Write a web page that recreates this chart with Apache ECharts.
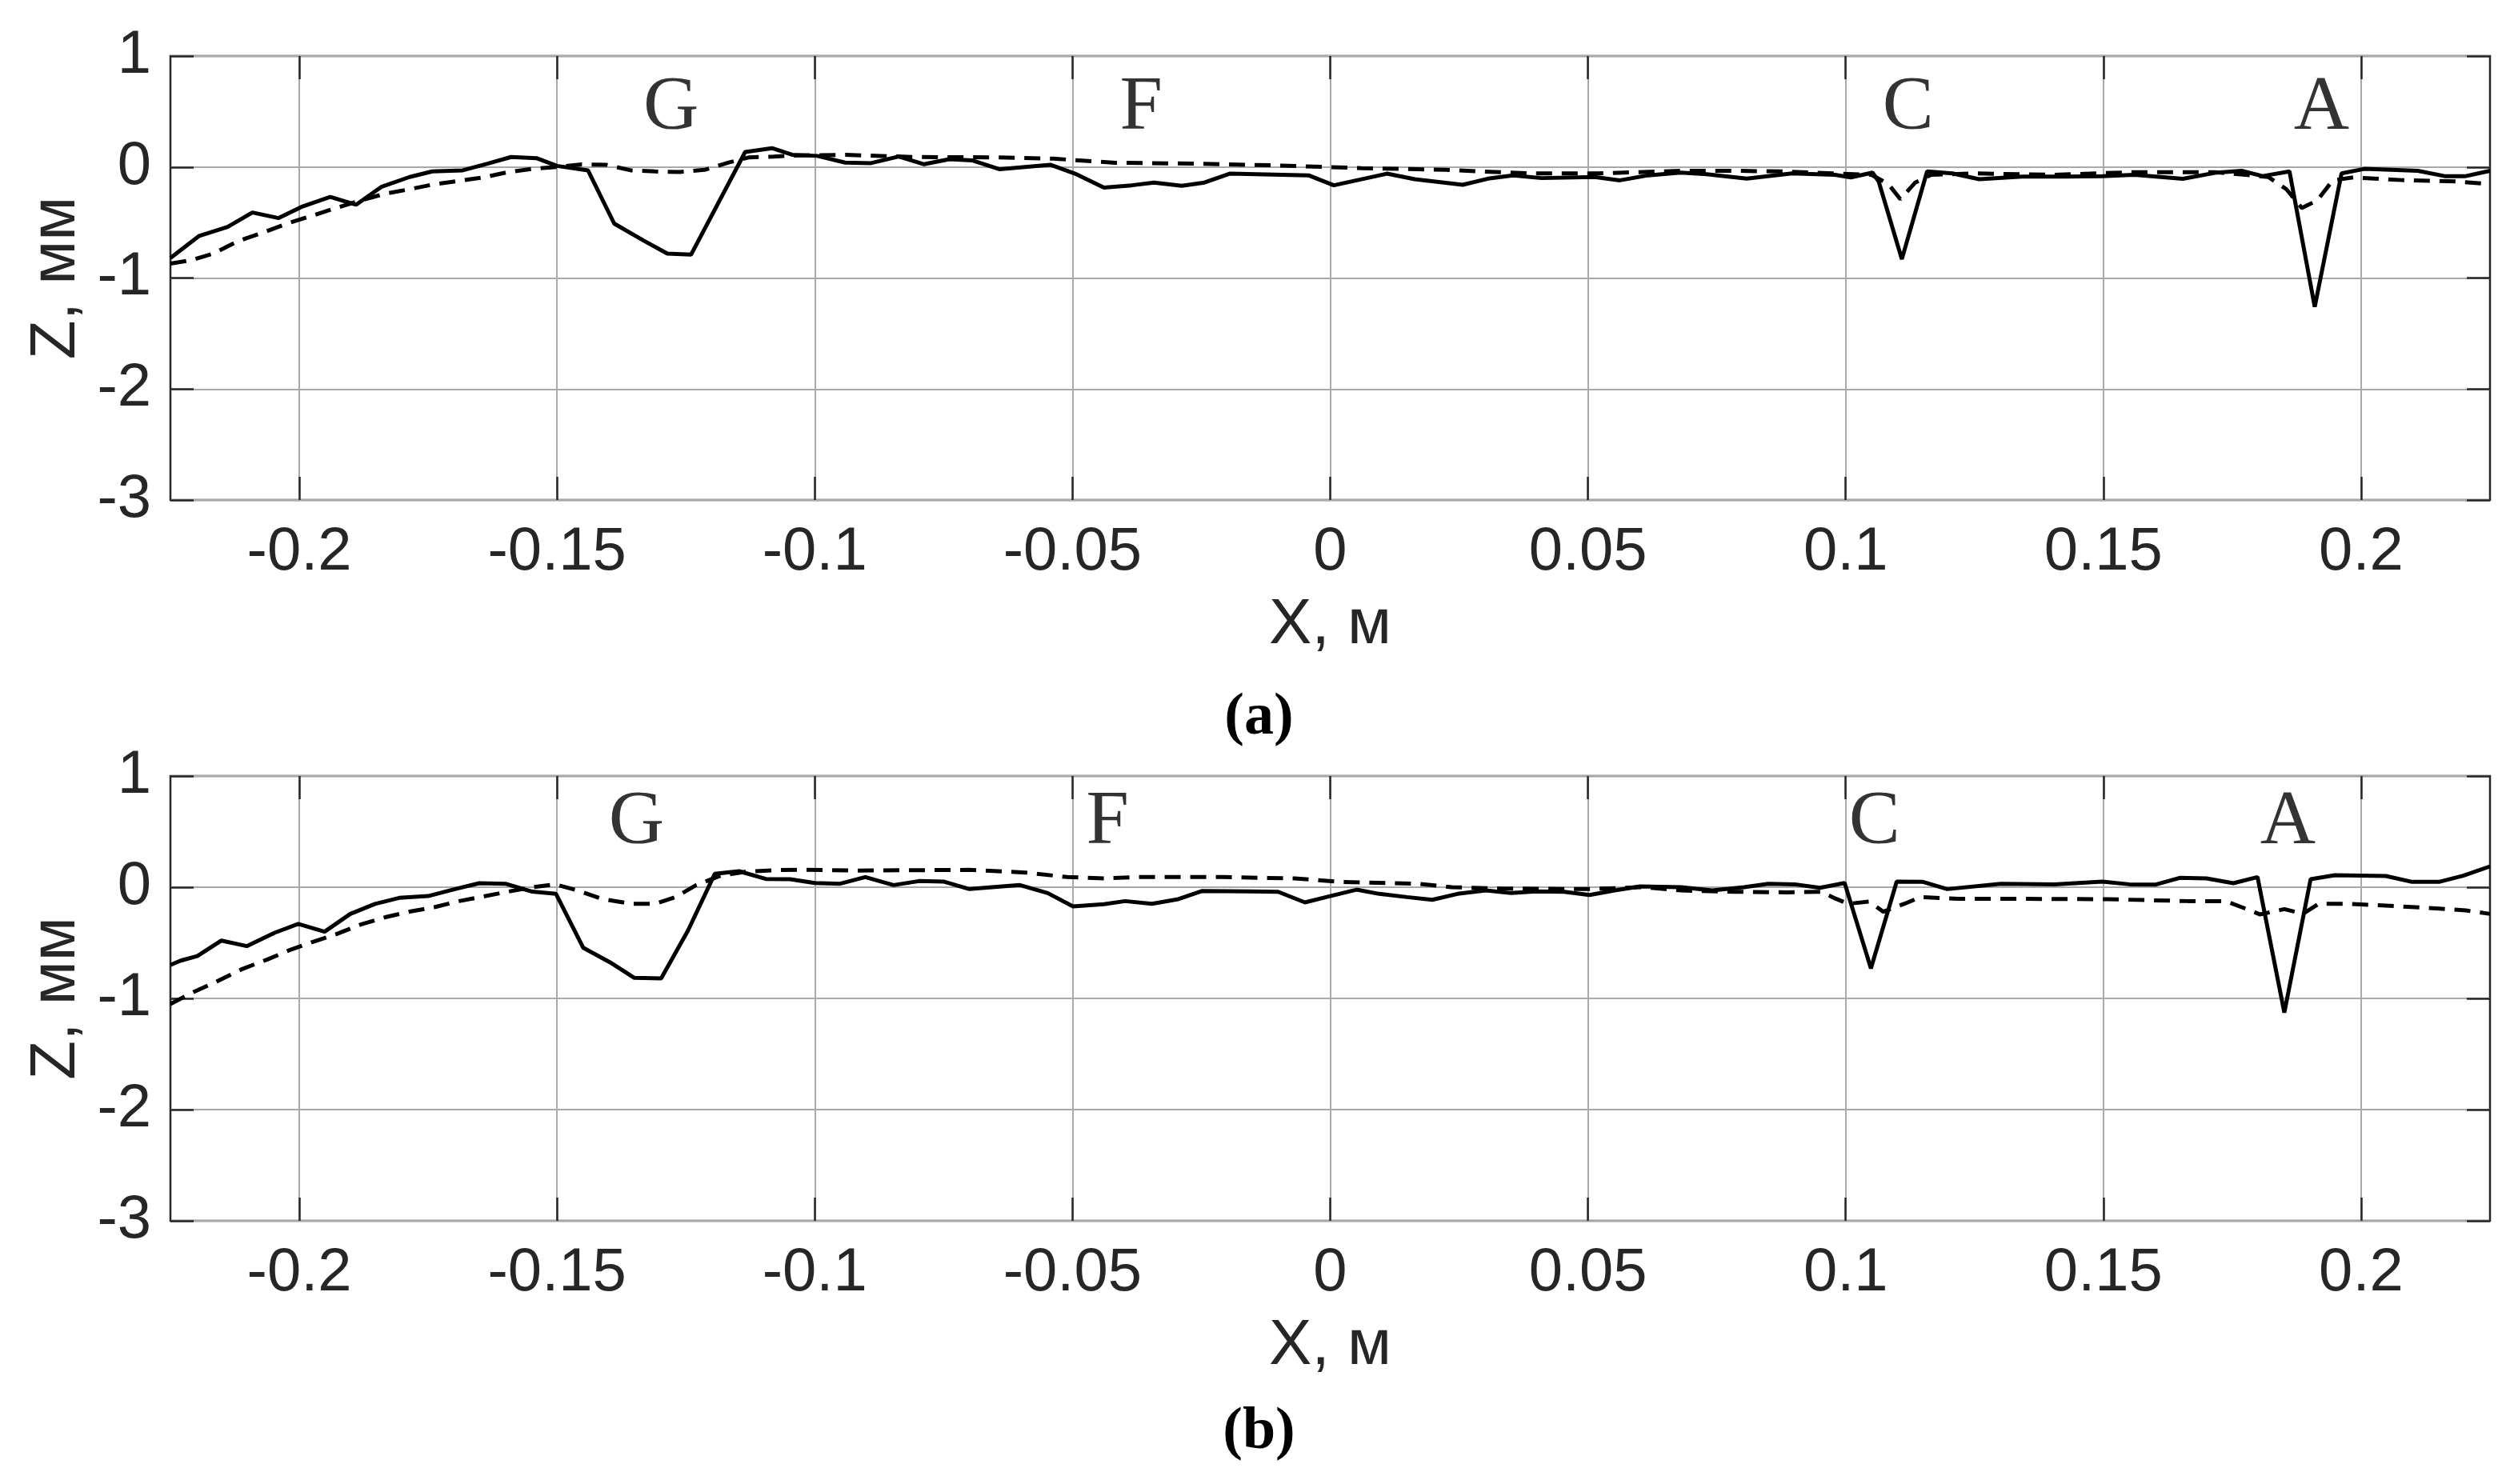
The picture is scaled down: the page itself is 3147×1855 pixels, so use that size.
<!DOCTYPE html>
<html>
<head>
<meta charset="utf-8">
<script src="https://cdn.jsdelivr.net/npm/echarts@6/dist/echarts.min.js"></script>
<style>
html,body{margin:0;padding:0;background:#fff;}
#chart{width:3147px;height:1855px;}
</style>
</head>
<body>
<div id="chart"></div>
<script>
// ---- data (X in m, Z in mm) ----
const xTicks = [-0.2, -0.15, -0.1, -0.05, 0, 0.05, 0.1, 0.15, 0.2];
const yTicks = [-3, -2, -1, 0, 1];

const solidA = [[-0.225,-0.82],[-0.2194,-0.62],[-0.2139,-0.54],[-0.2091,-0.41],[-0.204,-0.46],[-0.1996,-0.36],[-0.194,-0.27],[-0.189,-0.34],[-0.1841,-0.18],[-0.1786,-0.09],[-0.1742,-0.04],[-0.1683,-0.03],[-0.1635,0.03],[-0.1589,0.09],[-0.154,0.08],[-0.15,0.01],[-0.144,-0.03],[-0.1389,-0.51],[-0.1333,-0.66],[-0.1286,-0.78],[-0.124,-0.79],[-0.1135,0.135],[-0.1083,0.17],[-0.1044,0.11],[-0.0995,0.10],[-0.0941,0.04],[-0.0891,0.035],[-0.0837,0.095],[-0.0788,0.025],[-0.0739,0.07],[-0.0695,0.06],[-0.0641,-0.02],[-0.0543,0.02],[-0.0495,-0.06],[-0.0439,-0.185],[-0.0385,-0.165],[-0.0342,-0.14],[-0.0288,-0.17],[-0.0244,-0.14],[-0.0195,-0.06],[-0.0042,-0.075],[0.0007,-0.165],[0.011,-0.06],[0.0164,-0.11],[0.0257,-0.16],[0.0306,-0.105],[0.0355,-0.075],[0.041,-0.10],[0.0513,-0.09],[0.0562,-0.12],[0.0617,-0.075],[0.068,-0.05],[0.073,-0.065],[0.0808,-0.105],[0.0896,-0.058],[0.0979,-0.07],[0.101,-0.094],[0.1052,-0.05],[0.1064,-0.13],[0.1109,-0.83],[0.1158,-0.04],[0.1207,-0.058],[0.1259,-0.11],[0.1342,-0.087],[0.1425,-0.087],[0.1498,-0.082],[0.156,-0.07],[0.1654,-0.106],[0.1716,-0.053],[0.1768,-0.034],[0.1809,-0.082],[0.1861,-0.04],[0.191,-1.26],[0.1962,-0.058],[0.2006,-0.017],[0.211,-0.034],[0.2162,-0.082],[0.2203,-0.082],[0.225,-0.034]];

const dashedA = [[-0.225,-0.87],[-0.221,-0.84],[-0.2167,-0.78],[-0.212,-0.67],[-0.207,-0.59],[-0.2024,-0.51],[-0.1976,-0.44],[-0.1929,-0.37],[-0.188,-0.30],[-0.1833,-0.24],[-0.1786,-0.20],[-0.1738,-0.155],[-0.169,-0.125],[-0.1643,-0.094],[-0.1595,-0.046],[-0.1548,-0.017],[-0.15,0.0],[-0.1452,0.024],[-0.1405,0.02],[-0.1357,-0.03],[-0.131,-0.04],[-0.1262,-0.045],[-0.1214,-0.026],[-0.1167,0.04],[-0.1127,0.087],[-0.108,0.094],[-0.1027,0.105],[-0.094,0.11],[-0.081,0.09],[-0.0646,0.087],[-0.0537,0.075],[-0.0417,0.038],[-0.0266,0.031],[-0.0102,0.014],[0.0061,-0.01],[0.0224,-0.026],[0.0388,-0.058],[0.0518,-0.058],[0.068,-0.034],[0.078,-0.034],[0.0876,-0.04],[0.098,-0.058],[0.105,-0.07],[0.1083,-0.154],[0.1106,-0.29],[0.1135,-0.14],[0.1166,-0.07],[0.125,-0.058],[0.1405,-0.07],[0.156,-0.046],[0.1716,-0.046],[0.182,-0.09],[0.1855,-0.2],[0.1885,-0.37],[0.1915,-0.3],[0.1945,-0.12],[0.1985,-0.094],[0.2079,-0.118],[0.2183,-0.13],[0.225,-0.154]];

const solidB = [[-0.225,-0.70],[-0.223,-0.66],[-0.2198,-0.62],[-0.2151,-0.48],[-0.2102,-0.53],[-0.2048,-0.41],[-0.2002,-0.33],[-0.1951,-0.40],[-0.1901,-0.24],[-0.1853,-0.15],[-0.1806,-0.096],[-0.175,-0.08],[-0.1698,-0.017],[-0.1651,0.036],[-0.16,0.031],[-0.1548,-0.04],[-0.1502,-0.06],[-0.1449,-0.545],[-0.1397,-0.676],[-0.135,-0.815],[-0.1298,-0.82],[-0.1246,-0.39],[-0.1194,0.12],[-0.1147,0.144],[-0.1095,0.074],[-0.1048,0.072],[-0.1,0.038],[-0.0951,0.031],[-0.0902,0.091],[-0.0847,0.019],[-0.0798,0.055],[-0.0749,0.05],[-0.07,-0.017],[-0.0602,0.019],[-0.0548,-0.053],[-0.0499,-0.173],[-0.0439,-0.153],[-0.0398,-0.125],[-0.0346,-0.149],[-0.0297,-0.11],[-0.0248,-0.034],[-0.0156,-0.038],[-0.0101,-0.041],[-0.0049,-0.137],[-0.0003,-0.084],[0.0051,-0.022],[0.0095,-0.06],[0.0149,-0.089],[0.0198,-0.113],[0.0247,-0.06],[0.0302,-0.029],[0.0351,-0.053],[0.04,-0.038],[0.0454,-0.041],[0.0503,-0.07],[0.0552,-0.029],[0.0601,0.007],[0.0681,0.0],[0.0741,-0.029],[0.0803,0.0],[0.085,0.031],[0.0901,0.026],[0.095,-0.005],[0.0998,0.038],[0.1049,-0.73],[0.1099,0.05],[0.115,0.048],[0.1197,-0.017],[0.1301,0.031],[0.1405,0.026],[0.1498,0.05],[0.155,0.026],[0.1602,0.024],[0.1648,0.084],[0.17,0.079],[0.1752,0.036],[0.1799,0.091],[0.1851,-1.127],[0.1902,0.072],[0.1949,0.108],[0.2048,0.101],[0.2099,0.048],[0.2151,0.048],[0.2198,0.103],[0.225,0.187]];

const dashedB = [[-0.225,-1.05],[-0.2206,-0.945],[-0.2159,-0.845],[-0.2111,-0.736],[-0.2063,-0.652],[-0.202,-0.568],[-0.1976,-0.496],[-0.1929,-0.424],[-0.1881,-0.336],[-0.1833,-0.27],[-0.1786,-0.22],[-0.1738,-0.18],[-0.169,-0.125],[-0.1643,-0.084],[-0.1595,-0.04],[-0.1548,0.0],[-0.1504,0.026],[-0.146,-0.029],[-0.1413,-0.105],[-0.1357,-0.149],[-0.131,-0.149],[-0.127,-0.089],[-0.123,0.019],[-0.1183,0.103],[-0.1135,0.139],[-0.108,0.153],[-0.1025,0.158],[-0.0918,0.149],[-0.0809,0.153],[-0.07,0.156],[-0.0591,0.132],[-0.051,0.091],[-0.0439,0.079],[-0.0374,0.091],[-0.021,0.091],[-0.0069,0.079],[0.0019,0.048],[0.0171,0.031],[0.0236,0.0],[0.0334,-0.012],[0.0498,-0.017],[0.0607,0.0],[0.0681,-0.029],[0.0782,-0.041],[0.0886,-0.046],[0.0953,-0.041],[0.0979,-0.1],[0.1005,-0.149],[0.1045,-0.13],[0.1073,-0.22],[0.1114,-0.149],[0.1145,-0.089],[0.1218,-0.105],[0.1353,-0.105],[0.1508,-0.108],[0.1664,-0.125],[0.1737,-0.125],[0.1778,-0.197],[0.1804,-0.245],[0.1851,-0.197],[0.1887,-0.24],[0.1918,-0.149],[0.1975,-0.149],[0.2027,-0.161],[0.2079,-0.173],[0.2151,-0.192],[0.2203,-0.209],[0.225,-0.24]];

const lettersA = [[-0.1279,0.525,'G'],[-0.0367,0.525,'F'],[0.1121,0.525,'C'],[0.1923,0.525,'A']];
const lettersB = [[-0.1346,0.578,'G'],[-0.0432,0.578,'F'],[0.1056,0.578,'C'],[0.1858,0.578,'A']];

const panelLabels = ['a', 'b'];
const xName = 'X, м';
const yName = 'Z, мм';

// ---- styling ----
const AX = '#262626';
const GRIDC = '#a9a9a9';
const sans = 'Liberation Sans';
const serif = 'Liberation Serif';
const grids = [
  {left: 213, top: 70, width: 2899, height: 555},
  {left: 213, top: 970, width: 2899, height: 556}
];
const tickStyle = {show: true, inside: true, length: 29, lineStyle: {color: AX, width: 2.5}};

function mainX(g) {
  return {
    type: 'value', gridIndex: g, min: -0.225, max: 0.225, position: 'bottom',
    name: xName, nameLocation: 'middle', nameGap: 117,
    nameTextStyle: {fontFamily: sans, fontSize: 80, color: AX},
    axisLine: {show: false, onZero: false},
    axisTick: Object.assign({customValues: xTicks}, tickStyle),
    axisLabel: {show: true, customValues: xTicks, margin: 28, fontFamily: sans, fontSize: 76, color: AX,
      formatter: v => String(v)},
    splitLine: {show: true, lineStyle: {color: GRIDC, width: 2}}
  };
}
function topX(g) {
  return {
    type: 'value', gridIndex: g, min: -0.225, max: 0.225, position: 'top',
    axisLine: {show: false, onZero: false},
    axisTick: Object.assign({customValues: xTicks}, tickStyle),
    axisLabel: {show: false, customValues: xTicks},
    splitLine: {show: false}
  };
}
function mainY(g) {
  return {
    type: 'value', gridIndex: g, min: -3, max: 1, interval: 1, position: 'left',
    name: yName, nameLocation: 'middle', nameGap: 98,
    nameTextStyle: {fontFamily: sans, fontSize: 80, color: AX},
    axisLine: {show: false, onZero: false},
    axisTick: Object.assign({}, tickStyle),
    axisLabel: {show: true, margin: 24, fontFamily: sans, fontSize: 76, color: AX},
    splitLine: {show: true, lineStyle: {color: GRIDC, width: 2}}
  };
}
function rightY(g) {
  return {
    type: 'value', gridIndex: g, min: -3, max: 1, interval: 1, position: 'right',
    axisLine: {show: false, onZero: false},
    axisTick: Object.assign({}, tickStyle),
    axisLabel: {show: false},
    splitLine: {show: false}
  };
}

function lineSeries(data, xi, yi, dashed) {
  return {
    type: 'line', xAxisIndex: xi, yAxisIndex: yi, data: data,
    showSymbol: false, symbol: 'none', smooth: false, animation: false,
    lineStyle: {color: '#000', width: 5, type: dashed ? [20, 12] : 'solid'},
    z: dashed ? 3 : 4
  };
}
function letterSeries(data, xi, yi) {
  return {
    type: 'scatter', xAxisIndex: xi, yAxisIndex: yi, data: data,
    symbolSize: 1, itemStyle: {color: 'rgba(0,0,0,0)'}, animation: false, silent: true,
    label: {show: true, position: 'inside', formatter: p => p.data[2],
      fontFamily: serif, fontSize: 96, color: '#000'},
    z: 5
  };
}

const chart = echarts.init(document.getElementById('chart'), null, {renderer: 'canvas'});
chart.setOption({
  backgroundColor: '#fff',
  animation: false,
  title: panelLabels.map((t, i) => ({
    text: '{p|(}{b|' + t + '}{p|)}',
    left: 'center',
    top: i === 0 ? 856 : 1749,
    textStyle: {
      rich: {
        p: {fontFamily: serif, fontSize: 74, color: '#000'},
        b: {fontFamily: serif, fontSize: 74, fontWeight: 'bold', color: '#000'}
      }
    }
  })),
  grid: grids.map(g => Object.assign({show: true, borderColor: AX, borderWidth: 2.5, backgroundColor: 'transparent', containLabel: false}, g)),
  xAxis: [mainX(0), topX(0), mainX(1), topX(1)],
  yAxis: [mainY(0), rightY(0), mainY(1), rightY(1)],
  series: [
    lineSeries(dashedA, 0, 0, true),
    lineSeries(solidA, 0, 0, false),
    letterSeries(lettersA, 0, 0),
    lineSeries(dashedB, 2, 2, true),
    lineSeries(solidB, 2, 2, false),
    letterSeries(lettersB, 2, 2)
  ]
});
</script>
</body>
</html>
